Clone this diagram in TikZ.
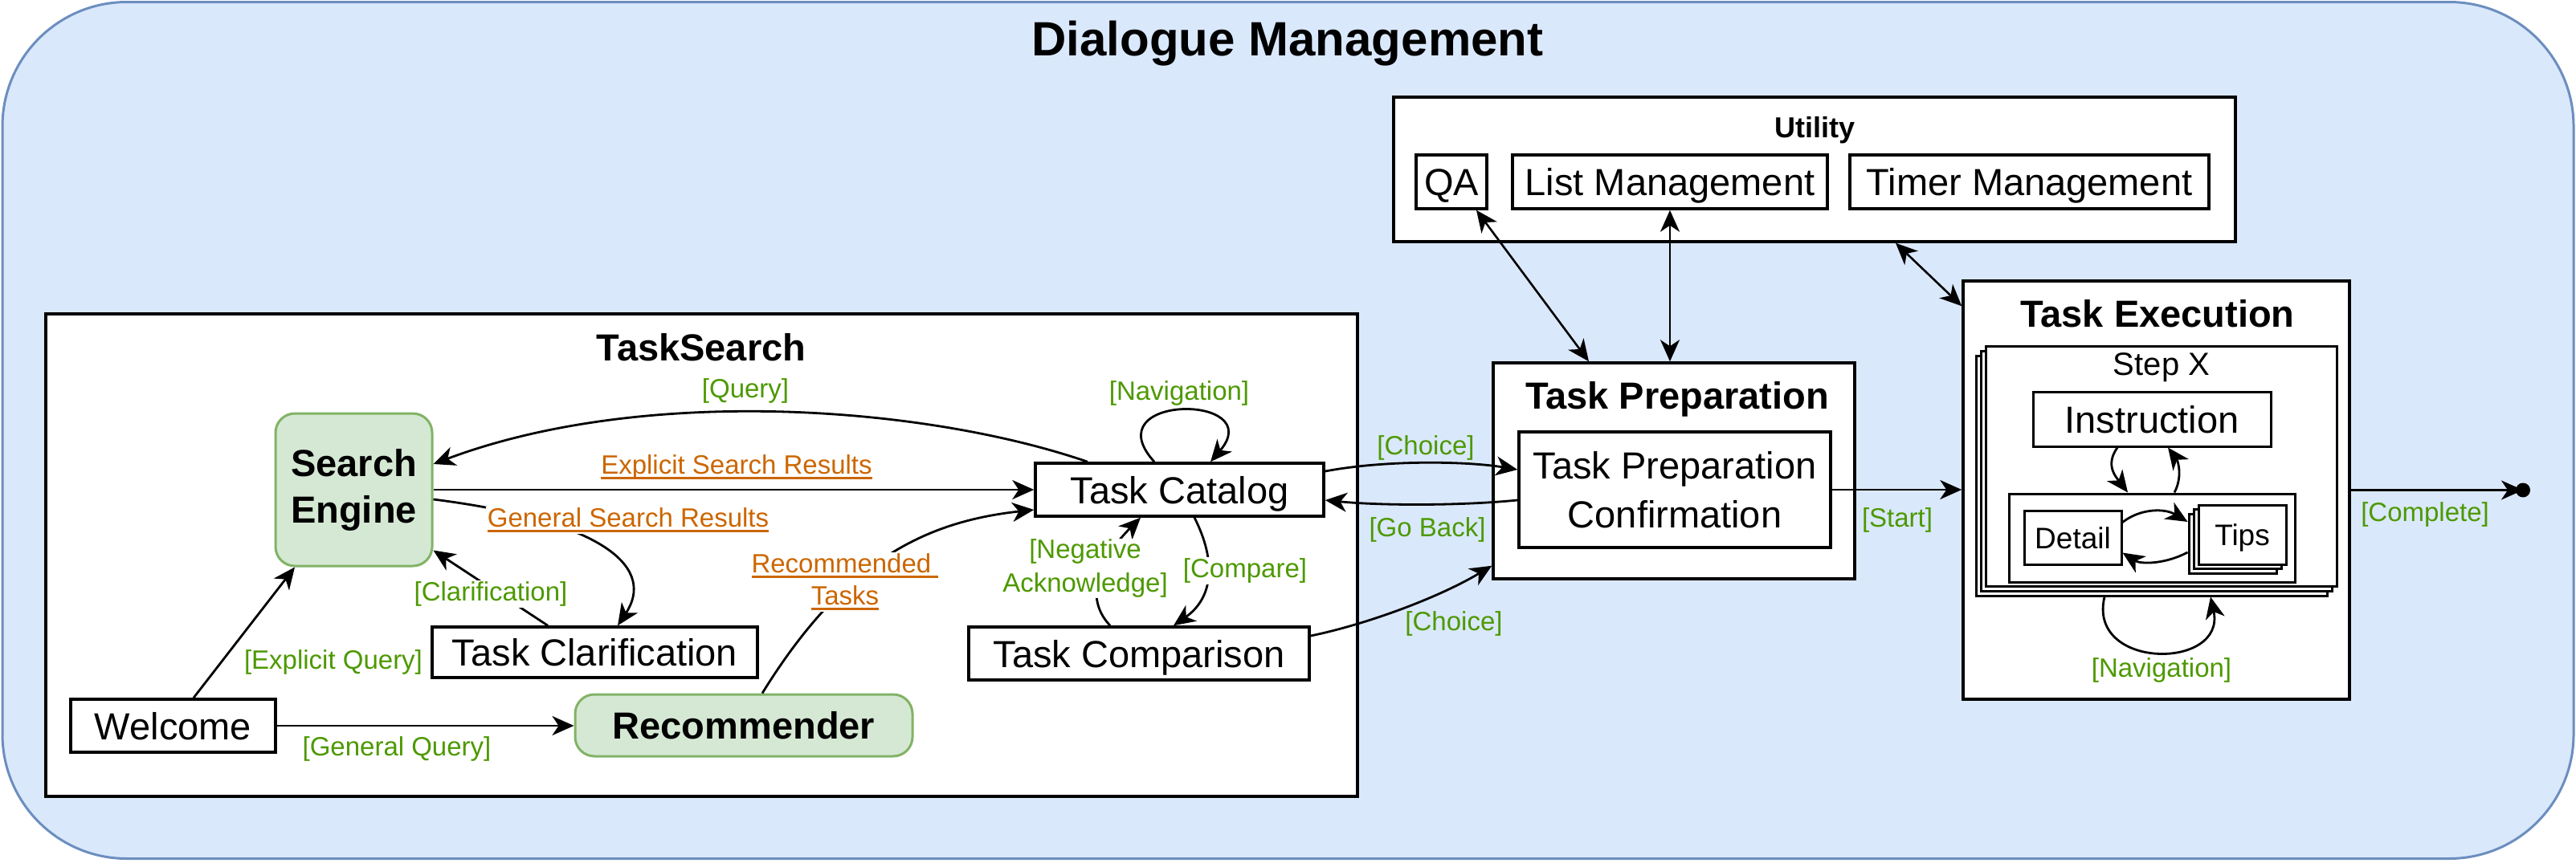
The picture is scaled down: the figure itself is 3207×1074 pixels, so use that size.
\documentclass[tikz,border=0pt]{standalone}
\usepackage{fontspec}
\setmainfont{Liberation Sans}
\usetikzlibrary{calc,arrows.meta}
\definecolor{bgfill}{HTML}{DAE8FC}
\definecolor{bgline}{HTML}{6C8EBF}
\definecolor{gfill}{HTML}{D5E8D4}
\definecolor{gline}{HTML}{82B366}
\definecolor{lgreen}{HTML}{4D9900}
\definecolor{lorange}{HTML}{CC6600}
\newcommand\orul[1]{\setbox0\hbox{#1}\rlap{\rule[-7pt]{\wd0}{3pt}}\box0}
\begin{document}
\begin{tikzpicture}[x=1pt,y=-1pt]
\tikzset{
  myarr/.tip={Stealth[length=27pt,width=24pt,inset=8pt]},
  cont/.style={draw=black, line width=3.5pt, fill=white, inner sep=0pt},
  layer/.style={draw=black, line width=3pt, fill=white},
  box/.style={draw=black, line width=3.5pt, fill=white, inner sep=0pt, align=center, font=\fontsize{47}{58}\selectfont},
  gbox/.style={box, draw=gline, line width=3pt, fill=gfill, rounded corners=24pt, font=\bfseries\fontsize{47}{58}\selectfont},
  one/.style={text height=34pt, text depth=0pt},
  small/.style={font=\fontsize{37}{44}\selectfont, text height=27pt, text depth=0pt},
  ttl/.style={inner sep=0pt, font=\bfseries\fontsize{47}{58}\selectfont},
  lbl/.style={text=lgreen, font=\fontsize{33}{41}\selectfont, inner sep=1.5pt, align=center},
  wlbl/.style={lbl, fill=white},
  olbl/.style={lbl, fill=white, text=lorange},
  conn/.style={draw=black, line width=2.8pt, -{myarr}},
  dconn/.style={draw=black, line width=2.6pt, {myarr}-{myarr}},
}
\useasboundingbox (0,0) rectangle (3207,1074);

% outer container
\node[draw=bgline, fill=bgfill, line width=3pt, rounded corners=155pt, minimum width=3201pt, minimum height=1067pt, inner sep=0pt] (dm) at (1603.5,536) {};

% containers
\node[cont, minimum width=1633pt, minimum height=601pt] (tsbox) at (873.5,691.5) {};
\node[cont, minimum width=1048pt, minimum height=180pt] (util) at (2259,211) {};
\node[cont, minimum width=450pt, minimum height=269pt] (tp) at (2084,586.5) {};
\node[cont, minimum width=481pt, minimum height=521pt] (te) at (2684.5,610.5) {};

% step stack
\draw[layer] (2460,443) rectangle (2897,742);
\draw[layer] (2466,437) rectangle (2903,736);
\node[cont, line width=3pt, minimum width=437pt, minimum height=299pt] (step) at (2690.5,580.5) {};
\node[cont, line width=3pt, minimum width=356pt, minimum height=110pt] (inner) at (2679,670) {};

% titles
\node[ttl, font=\bfseries\fontsize{60}{72}\selectfont] (dmt) at (1603,54) {Dialogue Management};
\node[ttl] (tst) at (873,433) {TaskSearch};
\node[ttl, font=\bfseries\fontsize{36}{43}\selectfont] (utt) at (2259,162) {Utility};
\node[ttl] (tpt) at (2088,497) {Task Preparation};
\node[ttl] (tet) at (2686,391) {Task Execution};
\node[inner sep=0pt, font=\fontsize{40}{48}\selectfont] (stt) at (2691,458) {Step X};

% nodes
\node[box, one, minimum width=255pt, minimum height=66pt] (welcome) at (215.5,904) {Welcome};
\node[gbox, minimum width=195pt, minimum height=190pt] (se) at (440.5,610) {Search\\Engine};
\node[box, one, minimum width=405pt, minimum height=63pt] (tclar) at (740.5,812.5) {Task Clarification};
\node[gbox, one, minimum width=420pt, minimum height=77pt] (rec) at (926,903.5) {Recommender};
\node[box, one, minimum width=359pt, minimum height=66pt] (tc) at (1468.5,610) {Task Catalog};
\node[box, one, minimum width=424pt, minimum height=66pt] (tcomp) at (1418,814) {Task Comparison};
\node[box, one, minimum width=88pt, minimum height=67pt] (qa) at (1807,226.5) {QA};
\node[box, one, minimum width=392pt, minimum height=67pt] (lm) at (2079,226.5) {List Management};
\node[box, one, minimum width=447pt, minimum height=67pt] (tm) at (2526.5,226.5) {Timer Management};
\node[box, font=\fontsize{47}{61}\selectfont, minimum width=388pt, minimum height=144pt] (tpc) at (2085,610) {Task Preparation\\Confirmation};
\node[box, one, line width=3pt, minimum width=296pt, minimum height=68pt] (instr) at (2679,522) {Instruction};
\node[box, small, line width=3pt, minimum width=121pt, minimum height=67pt] (detail) at (2580.5,669.5) {Detail};
\draw[layer] (2725,640) rectangle (2834,714);
\draw[layer] (2731,634.5) rectangle (2840,708.5);
\node[box, small, line width=3pt, minimum width=109pt, minimum height=74pt] (tips) at (2791.5,666) {Tips};
\coordinate (endpt) at (3141,610.5);

% connectors
\draw[conn] ($(welcome.north)+(25.5,0)$) -- ($(se.south)+(-73.5,0)$);
\draw[conn] (welcome.east) -- (welcome.east -| rec.west);
\draw[conn] (se.east) -- (tc.west);
\draw[conn] ($(tc.north)+(-114.5,0)$) .. controls (1150,505) and (800,480) .. ($(se.east)+(0,-32)$);
\draw[conn] ($(se.east)+(0,12)$) .. controls (760,650) and (815,710) .. ($(tclar.north)+(28.5,0)$);
\draw[conn] ($(tclar.north)+(-58.5,0)$) -- ($(se.south east)+(0,-21)$);
\draw[conn] ($(rec.north)+(23,0)$) .. controls (1050,700) and (1150,650) .. ($(tc.west)+(0,25)$);
\draw[conn] ($(tc.north)+(-31.5,0)$) .. controls (1360,490) and (1580,490) .. ($(tc.north)+(38.5,0)$);
\draw[conn] ($(tc.south)+(18.5,0)$) .. controls (1515,700) and (1510,745) .. ($(tcomp.north)+(43,0)$);
\draw[conn] ($(tcomp.north)+(-36,0)$) .. controls (1345,740) and (1375,690) .. ($(tc.south)+(-48.5,0)$);
\draw[conn] ($(tc.east)+(0,-23)$) .. controls (1730,572) and (1830,575) .. ($(tpc.west)+(0,-25)$);
\draw[conn] ($(tpc.west)+(0,13)$) .. controls (1820,630) and (1720,630) .. ($(tc.east)+(0,13)$);
\draw[conn] ($(tcomp.east)+(0,-22)$) .. controls (1700,778) and (1790,745) .. ($(tp.south west)+(0,-18)$);
\draw[conn] (tpc.east) -- (tpc.east -| te.west);
\draw[conn] (te.east) -- (endpt);
\fill (endpt) circle (9);
\draw[dconn] ($(qa.south)+(31,0)$) -- ($(tp.north)+(-106,0)$);
\draw[dconn] (lm.south) -- (lm.south |- tp.north);
\draw[dconn] ($(util.south)+(101,0)$) -- ($(te.north west)+(0,33)$);
\draw[conn] ($(instr.south)+(-43,0)$) .. controls (2620,580) and (2635,595) .. ($(inner.north)+(-30,0)$);
\draw[conn] ($(inner.north)+(28,0)$) .. controls (2717,595) and (2712,575) .. ($(instr.south)+(20,0)$);
\draw[conn] ($(detail.east)+(0,-19)$) .. controls (2665,633) and (2695,633) .. ($(tips.west)+(-12,-16)$);
\draw[conn] ($(tips.west)+(-12,22)$) .. controls (2695,703) and (2665,703) .. ($(detail.east)+(0,19)$);
\draw[conn] ($(step.south)+(-70.5,12)$) .. controls (2598,835) and (2772,835) .. ($(step.south)+(61.5,12)$);

% labels
\node[lbl] (l1) at (415,825) {[Explicit Query]};
\node[lbl] (l2) at (494,933) {[General Query]};
\node[olbl] (l3) at (917,582) {\orul{Explicit Search Results}};
\node[lbl] (l4) at (928,487) {[Query]};
\node[olbl] (l5) at (782,648) {\orul{General Search Results}};
\node[wlbl] (l6) at (611,740) {[Clarification]};
\node[olbl, font=\fontsize{33}{40}\selectfont] (l7) at (1052,725) {\orul{Recommended\ }\\\orul{Tasks}};
\node[lbl] (l8) at (1468,490) {[Navigation]};
\node[wlbl] (l9) at (1550,711) {[Compare]};
\node[wlbl, inner sep=0.5pt, font=\fontsize{33}{42}\selectfont] (l10) at (1351,708) {[Negative\\Acknowledge]};
\node[lbl] (l11) at (1775,558) {[Choice]};
\node[lbl] (l12) at (1777,660) {[Go Back]};
\node[lbl] (l13) at (1810,777) {[Choice]};
\node[lbl] (l14) at (2362,648) {[Start]};
\node[lbl] (l15) at (3019,641) {[Complete]};
\node[lbl] (l16) at (2691,835) {[Navigation]};
\end{tikzpicture}
\end{document}
